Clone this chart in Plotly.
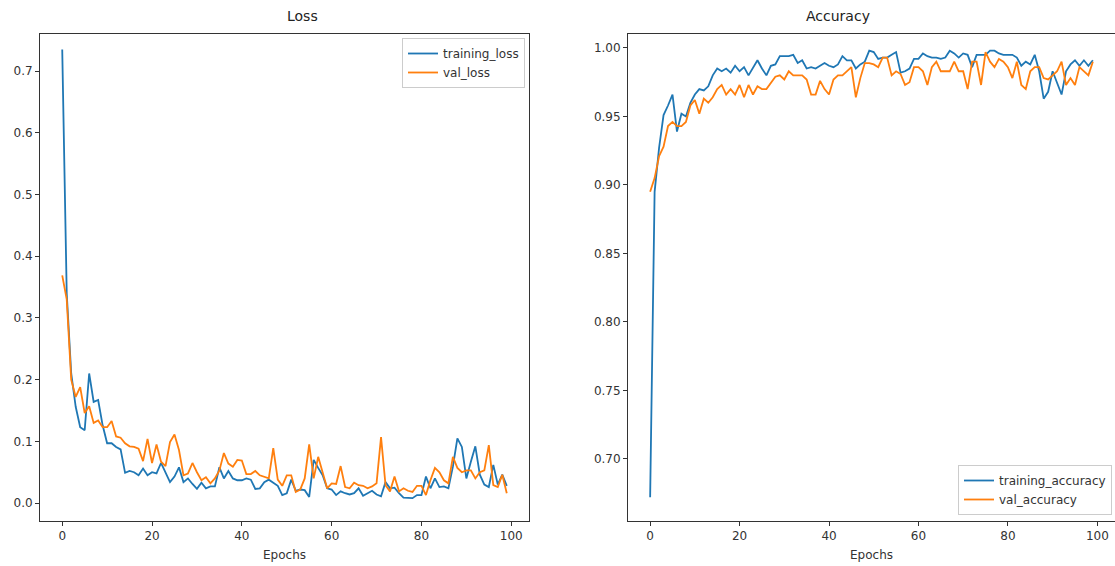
import plotly.graph_objects as go
from plotly.subplots import make_subplots

epochs = list(range(100))

training_loss = [
    0.735, 0.34, 0.21, 0.156, 0.123, 0.118, 0.21, 0.164, 0.167, 0.126,
    0.097, 0.097, 0.091, 0.087, 0.049, 0.052, 0.05, 0.045, 0.056, 0.045,
    0.05, 0.048, 0.065, 0.048, 0.034, 0.043, 0.058, 0.034, 0.04, 0.031,
    0.023, 0.033, 0.024, 0.027, 0.027, 0.058, 0.04, 0.052, 0.04, 0.037,
    0.037, 0.04, 0.038, 0.023, 0.024, 0.034, 0.038, 0.033, 0.028, 0.013,
    0.016, 0.038, 0.02, 0.022, 0.021, 0.01, 0.07, 0.057, 0.045, 0.024,
    0.022, 0.013, 0.019, 0.016, 0.014, 0.016, 0.024, 0.012, 0.016, 0.02,
    0.014, 0.011, 0.034, 0.024, 0.025, 0.016, 0.009, 0.009, 0.008, 0.013,
    0.013, 0.043, 0.024, 0.04, 0.026, 0.027, 0.024, 0.059, 0.105, 0.091,
    0.04, 0.067, 0.092, 0.046, 0.03, 0.026, 0.062, 0.03, 0.046, 0.028,
]
val_loss = [
    0.369, 0.33, 0.2, 0.172, 0.188, 0.146, 0.157, 0.13, 0.134, 0.123,
    0.123, 0.133, 0.108, 0.106, 0.097, 0.092, 0.091, 0.088, 0.068, 0.104,
    0.065, 0.095, 0.067, 0.06, 0.099, 0.111, 0.086, 0.045, 0.048, 0.065,
    0.05, 0.037, 0.042, 0.032, 0.04, 0.053, 0.081, 0.064, 0.059, 0.07,
    0.069, 0.047, 0.047, 0.052, 0.045, 0.043, 0.04, 0.089, 0.038, 0.028,
    0.045, 0.045, 0.018, 0.022, 0.04, 0.095, 0.04, 0.075, 0.05, 0.024,
    0.032, 0.031, 0.06, 0.026, 0.024, 0.033, 0.029, 0.028, 0.024, 0.027,
    0.032, 0.107, 0.029, 0.019, 0.043, 0.019, 0.024, 0.02, 0.018, 0.028,
    0.028, 0.013, 0.037, 0.057, 0.05, 0.037, 0.032, 0.075, 0.057, 0.05,
    0.053, 0.053, 0.04, 0.05, 0.053, 0.094, 0.029, 0.026, 0.046, 0.016,
]
training_accuracy = [
    0.672, 0.895, 0.927, 0.951, 0.958, 0.966, 0.939, 0.952, 0.95, 0.96,
    0.966, 0.97, 0.969, 0.972, 0.98, 0.985, 0.983, 0.985, 0.982, 0.987,
    0.983, 0.986, 0.98, 0.986, 0.991, 0.985, 0.98, 0.987, 0.988, 0.994,
    0.994, 0.994, 0.995, 0.989, 0.991, 0.985, 0.986, 0.985, 0.987, 0.989,
    0.987, 0.986, 0.988, 0.994, 0.991, 0.991, 0.985, 0.988, 0.99, 0.998,
    0.997, 0.992, 0.993, 0.993, 0.995, 0.997, 0.982, 0.983, 0.985, 0.992,
    0.992, 0.996, 0.994, 0.993, 0.993, 0.992, 0.993, 0.998, 0.996, 0.993,
    0.996, 0.995, 0.986, 0.995, 0.995, 0.995, 0.998, 0.998, 0.996, 0.995,
    0.995, 0.995, 0.993, 0.987, 0.99, 0.988, 0.995, 0.983, 0.963, 0.968,
    0.983, 0.975, 0.966, 0.983, 0.988, 0.991, 0.987, 0.991, 0.987, 0.991,
]
val_accuracy = [
    0.895, 0.905, 0.921, 0.928, 0.943, 0.946, 0.943, 0.943, 0.946, 0.958,
    0.962, 0.952, 0.963, 0.96, 0.964, 0.97, 0.973, 0.966, 0.97, 0.966,
    0.973, 0.964, 0.973, 0.966, 0.972, 0.97, 0.97, 0.975, 0.979, 0.98,
    0.977, 0.983, 0.98, 0.98, 0.98, 0.977, 0.966, 0.966, 0.976, 0.97,
    0.966, 0.977, 0.98, 0.98, 0.983, 0.986, 0.964, 0.978, 0.989, 0.989,
    0.988, 0.986, 0.993, 0.993, 0.98, 0.983, 0.981, 0.973, 0.975, 0.986,
    0.986, 0.983, 0.973, 0.986, 0.99, 0.983, 0.983, 0.983, 0.99, 0.983,
    0.983, 0.97, 0.99, 0.99, 0.973, 0.997, 0.99, 0.986, 0.992, 0.99,
    0.986, 0.978, 0.99, 0.973, 0.97, 0.983, 0.986, 0.986, 0.978, 0.977,
    0.98, 0.983, 0.99, 0.973, 0.978, 0.973, 0.986, 0.983, 0.98, 0.99,
]

blue = "#1f77b4"
orange = "#ff7f0e"
W, H = 1115, 566
ml, mr, mt = 40, 0, 34
mb = H - 521
pw = W - ml - mr
ph = H - mt - mb


def px_x(x_win):
    return (x_win - ml) / pw


def px_y(y_win):
    return (H - mb - y_win) / ph


fig = make_subplots(rows=1, cols=2, horizontal_spacing=0.0)

fig.add_trace(go.Scatter(x=epochs, y=training_loss, mode="lines", name="training_loss",
                         line=dict(color=blue, width=1.8), legend="legend"), row=1, col=1)
fig.add_trace(go.Scatter(x=epochs, y=val_loss, mode="lines", name="val_loss",
                         line=dict(color=orange, width=1.8), legend="legend"), row=1, col=1)
fig.add_trace(go.Scatter(x=epochs, y=training_accuracy, mode="lines", name="training_accuracy",
                         line=dict(color=blue, width=1.8), legend="legend2"), row=1, col=2)
fig.add_trace(go.Scatter(x=epochs, y=val_accuracy, mode="lines", name="val_accuracy",
                         line=dict(color=orange, width=1.8), legend="legend2"), row=1, col=2)

axis_common = dict(showline=True, linecolor="#333333", linewidth=1, mirror=True,
                   ticks="outside", ticklen=4, tickcolor="#333333", showgrid=False,
                   zeroline=False, tickfont=dict(size=12, color="#333333"))

d1 = [px_x(40), px_x(529)]
d2 = [px_x(628), 1.0]
fig.update_xaxes(domain=d1, range=[-4.95, 103.95], tickvals=[0, 20, 40, 60, 80, 100],
                 title=dict(text="Epochs", font=dict(size=12, color="#333333"), standoff=8),
                 row=1, col=1, **axis_common)
fig.update_xaxes(domain=d2, range=[-4.95, 103.95], tickvals=[0, 20, 40, 60, 80, 100],
                 title=dict(text="Epochs", font=dict(size=12, color="#333333"), standoff=8),
                 row=1, col=2, **axis_common)
fig.update_yaxes(range=[-0.029, 0.760], tickvals=[0, 0.1, 0.2, 0.3, 0.4, 0.5, 0.6, 0.7],
                 tickformat=".1f", row=1, col=1, **axis_common)
fig.update_yaxes(range=[0.6547, 1.0102], tickvals=[0.70, 0.75, 0.80, 0.85, 0.90, 0.95, 1.00],
                 tickformat=".2f", row=1, col=2, **axis_common)

fig.add_annotation(text="Loss", xref="paper", yref="paper", x=(d1[0] + d1[1]) / 2,
                   y=1.0, yshift=8, yanchor="bottom", showarrow=False,
                   font=dict(size=14, color="#222222"))
fig.add_annotation(text="Accuracy", xref="paper", yref="paper", x=(d2[0] + d2[1]) / 2,
                   y=1.0, yshift=8, yanchor="bottom", showarrow=False,
                   font=dict(size=14, color="#222222"))

fig.update_layout(
    width=W, height=H,
    margin=dict(l=ml, r=mr, t=mt, b=mb, autoexpand=False),
    paper_bgcolor="white", plot_bgcolor="white",
    font=dict(family="DejaVu Sans", size=12, color="#333333"),
    legend=dict(x=px_x(525), xanchor="right", y=px_y(38), yanchor="top",
                bordercolor="#cccccc", borderwidth=1, bgcolor="rgba(255,255,255,0.8)",
                font=dict(size=12, color="#333333"), itemwidth=30),
    legend2=dict(x=px_x(1112), xanchor="right", y=px_y(515), yanchor="bottom",
                 bordercolor="#cccccc", borderwidth=1, bgcolor="rgba(255,255,255,0.8)",
                 font=dict(size=12, color="#333333"), itemwidth=30),
)

fig.write_html(
    "out.html",
    config={"displayModeBar": False},
    post_script="document.body.style.margin='0';document.body.style.overflow='hidden';",
)
